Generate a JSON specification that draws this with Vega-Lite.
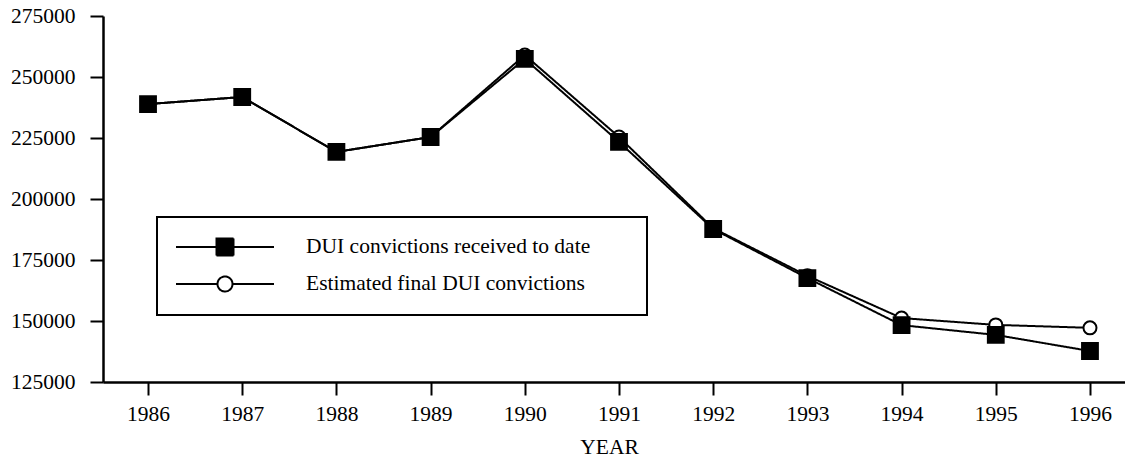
{
  "$schema": "https://vega.github.io/schema/vega-lite/v6.json",
  "width": 1032,
  "height": 366,
  "autosize": {"type": "none"},
  "padding": {"left": 103, "top": 16, "right": 0, "bottom": 79},
  "background": "white",
  "config": {
    "view": {"stroke": null},
    "font": "Liberation Serif",
    "axis": {
      "domainColor": "black",
      "domainWidth": 2.5,
      "tickColor": "black",
      "tickWidth": 2,
      "tickSize": 13,
      "labelFont": "Liberation Serif",
      "labelFontSize": 21.5,
      "labelColor": "black",
      "titleFont": "Liberation Serif",
      "titleFontSize": 21.5,
      "titleFontWeight": "normal",
      "titleColor": "black",
      "grid": false
    },
    "legend": {
      "orient": "none",
      "legendX": 54,
      "legendY": 201,
      "padding": 19,
      "symbolSize": 400,
      "labelOffset": 108,
      "rowPadding": 12,
      "labelFont": "Liberation Serif",
      "labelFontSize": 21.5,
      "labelColor": "black",
      "labelLimit": 600,
      "strokeColor": "black"
    }
  },
  "data": {
    "values": [
      {"series": "Estimated final DUI convictions", "year": "1986", "value": 238900},
      {"series": "Estimated final DUI convictions", "year": "1987", "value": 241800},
      {"series": "Estimated final DUI convictions", "year": "1988", "value": 219300},
      {"series": "Estimated final DUI convictions", "year": "1989", "value": 225400},
      {"series": "Estimated final DUI convictions", "year": "1990", "value": 259000},
      {"series": "Estimated final DUI convictions", "year": "1991", "value": 225400},
      {"series": "Estimated final DUI convictions", "year": "1992", "value": 188000},
      {"series": "Estimated final DUI convictions", "year": "1993", "value": 168500},
      {"series": "Estimated final DUI convictions", "year": "1994", "value": 151200},
      {"series": "Estimated final DUI convictions", "year": "1995", "value": 148400},
      {"series": "Estimated final DUI convictions", "year": "1996", "value": 147200},
      {"series": "DUI convictions received to date", "year": "1986", "value": 238900},
      {"series": "DUI convictions received to date", "year": "1987", "value": 241800},
      {"series": "DUI convictions received to date", "year": "1988", "value": 219300},
      {"series": "DUI convictions received to date", "year": "1989", "value": 225400},
      {"series": "DUI convictions received to date", "year": "1990", "value": 257400},
      {"series": "DUI convictions received to date", "year": "1991", "value": 223400},
      {"series": "DUI convictions received to date", "year": "1992", "value": 187700},
      {"series": "DUI convictions received to date", "year": "1993", "value": 167600},
      {"series": "DUI convictions received to date", "year": "1994", "value": 148300},
      {"series": "DUI convictions received to date", "year": "1995", "value": 144300},
      {"series": "DUI convictions received to date", "year": "1996", "value": 137700}
    ]
  },
  "encoding": {
    "x": {
      "field": "year",
      "type": "ordinal",
      "scale": {"type": "point", "padding": 0.478},
      "axis": {"title": "YEAR", "labelAngle": 0, "labelPadding": 8, "titlePadding": 12, "titleX": 506}
    },
    "y": {
      "field": "value",
      "type": "quantitative",
      "scale": {"domain": [125000, 275000], "nice": false, "zero": false},
      "axis": {"title": null, "values": [125000, 150000, 175000, 200000, 225000, 250000, 275000], "format": "d", "labelPadding": 15}
    }
  },
  "layer": [
    {
      "mark": {"type": "line", "color": "black", "strokeWidth": 2},
      "encoding": {
        "strokeDash": {
          "field": "series",
          "type": "nominal",
          "title": null,
          "scale": {"domain": ["DUI convictions received to date", "Estimated final DUI convictions"], "range": [[1, 0], [1, 0]]},
          "legend": {
            "title": null,
            "encoding": {
              "legend": {"stroke": {"value": "black"}, "strokeWidth": {"value": 2}},
              "symbols": {
                "shape": {"value": {"expr": "datum.value === 'Estimated final DUI convictions' ? 'M-1.1,0H3.05M4.55,0H8.7M3.05,0A0.75,0.75,0,1,0,4.55,0A0.75,0.75,0,1,0,3.05,0ZM43.7,0' : 'M-1.1,0H2.95M4.65,0H8.7M2.95,-0.85H4.65V0.85H2.95ZM43.7,0'"}},
                "fill": {"value": {"expr": "datum.value === 'Estimated final DUI convictions' ? 'white' : 'black'"}},
                "stroke": {"value": "black"},
                "strokeWidth": {"value": 2},
                "size": {"value": 400},
                "opacity": {"value": 1}
              }
            }
          }
        }
      }
    },
    {
      "transform": [{"filter": "datum.series === 'Estimated final DUI convictions'"}],
      "mark": {"type": "point", "shape": "circle", "filled": true, "fill": "white", "stroke": "black", "strokeWidth": 2, "size": 170, "opacity": 1}
    },
    {
      "transform": [{"filter": "datum.series === 'DUI convictions received to date'"}],
      "mark": {"type": "point", "shape": "square", "filled": true, "fill": "black", "stroke": "black", "strokeWidth": 2, "size": 250, "opacity": 1}
    }
  ]
}
